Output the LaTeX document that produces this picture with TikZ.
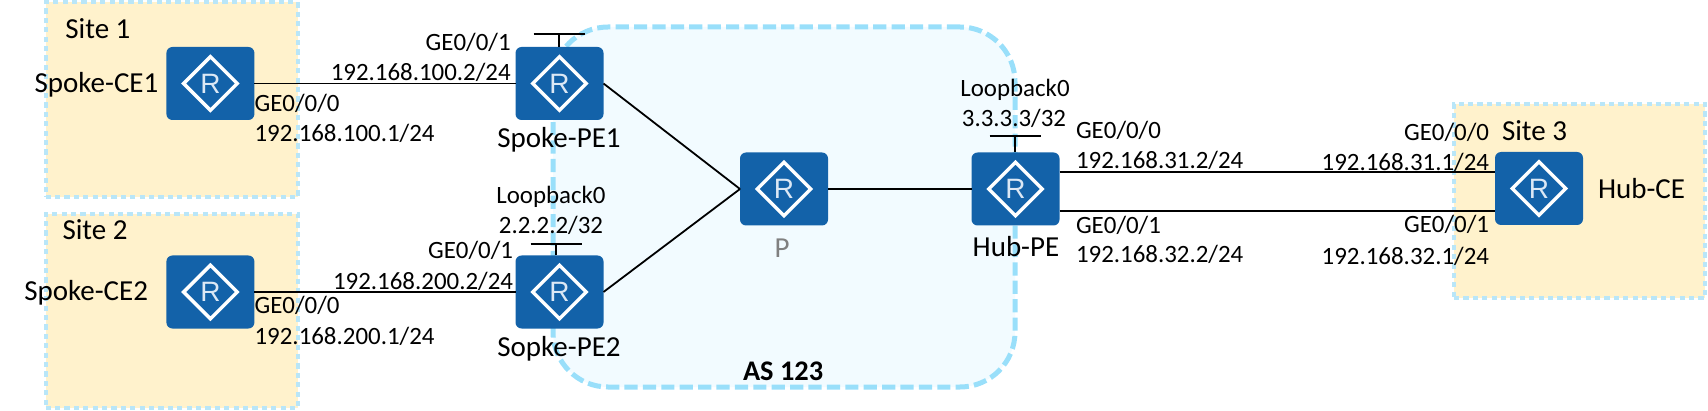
\documentclass[tikz,border=0pt]{standalone}
\usepackage{fontspec}
\setmainfont{Carlito}
\newfontfamily\routerfont{Liberation Sans}
\definecolor{routerblue}{HTML}{1362A9}
\definecolor{routerletter}{HTML}{DCE8F5}
\definecolor{sitefill}{HTML}{FFF2CC}
\definecolor{siteline}{HTML}{B9E6F8}
\definecolor{asfill}{HTML}{F2FBFF}
\definecolor{asline}{HTML}{99DFFA}
\begin{document}
\begin{tikzpicture}[x=.5pt, y=-.5pt,
site/.style={rectangle, draw=siteline, fill=sitefill, line width=2pt, dash pattern=on 2.6pt off 2.1pt, outer sep=0pt},
asbox/.style={rectangle, draw=asline, fill=asfill, line width=2.5pt, dash pattern=on 6.6pt off 2.6pt, rounded corners=27.5pt, outer sep=0pt},
router/.style={rectangle, rounded corners=3pt, fill=routerblue, text=routerletter, outer sep=0pt, inner sep=0pt,
  minimum width=44pt, minimum height=36.5pt, font=\routerfont\fontsize{14}{14}\selectfont,
  path picture={\draw[white, sharp corners, line width=1.7pt] ([yshift=13.4pt]path picture bounding box.center)
    -- ([xshift=13.4pt]path picture bounding box.center) -- ([yshift=-13.4pt]path picture bounding box.center)
    -- ([xshift=-13.4pt]path picture bounding box.center) -- cycle;}},
link/.style={draw=black, line width=.9pt},
lbl/.style={inner sep=0pt, outer sep=0pt, font=\fontsize{12.45}{15}\selectfont},
lblw/.style={lbl, anchor=base west},
lble/.style={lbl, anchor=base east},
lblc/.style={lbl, anchor=base},
bigtxt/.style={font=\fontsize{14.5}{17}\selectfont},
]
\useasboundingbox (0,0) rectangle (1708,411);

% areas
\node[site, minimum width=126pt, minimum height=97.5pt] (site1) at (171.6,100) {};
\node[site, minimum width=126pt, minimum height=97pt] (site2) at (171.6,311) {};
\node[site, minimum width=125.5pt, minimum height=97pt] (site3) at (1579.5,201) {};
\node[asbox, minimum width=231pt, minimum height=180pt] (as123) at (784,207) {};

% routers
\node[router] (ce1) at (210.4,83.5) {R};
\node[router] (ce2) at (210.4,292) {R};
\node[router] (pe1) at (559.5,83.5) {R};
\node[router] (pe2) at (559.5,292) {R};
\node[router] (p) at (784,189) {R};
\node[router] (hubpe) at (1015.5,189) {R};
\node[router] (hubce) at (1539,188.5) {R};

% links
\draw[link] (ce1) -- (pe1);
\draw[link] (ce2) -- (pe2);
\draw[link] (pe1.east) -- (p.west);
\draw[link] (pe2.east) -- (p.west);
\draw[link] (p) -- (hubpe);
\draw[link] ([yshift=8.65pt]hubpe.east) -- ([yshift=8.4pt]hubce.west);
\draw[link] ([yshift=-10.85pt]hubpe.east) -- ([yshift=-11.1pt]hubce.west);

% loopback stubs
\coordinate (stub1) at (559,34);
\coordinate (stub2) at (556,244);
\coordinate (stub3) at (1015,136);
\foreach \stub/\rt in {stub1/pe1, stub2/pe2, stub3/hubpe}{
  \draw[link] (\stub) -- (\stub |- \rt.north);
  \draw[link] ([xshift=-12.75pt]\stub) -- ([xshift=12.75pt]\stub);
}

% texts
\node[lblw, bigtxt] (site1txt) at (65.4,38.5) {Site 1};
\node[lblw, bigtxt] (site2txt) at (62.5,240) {Site 2};
\node[lblw, bigtxt] (site3txt) at (1502,141) {Site 3};
\node[lblw, bigtxt] (ce1txt) at (34.6,93) {Spoke-CE1};
\node[lblw, bigtxt] (ce2txt) at (24.3,300) {Spoke-CE2};
\node[lblc, bigtxt] (pe1txt) at (559,148) {Spoke-PE1};
\node[lblc, bigtxt] (pe2txt) at (559,357) {Sopke-PE2};
\node[lblc, bigtxt, text=gray] (ptxt) at (782,258) {P};
\node[lblc, bigtxt] (hubpetxt) at (1016,257) {Hub-PE};
\node[lblw, bigtxt] (hubcetxt) at (1598,199) {Hub-CE};
\node[lblw, font=\bfseries\fontsize{14.2}{16}\selectfont] (astxt) at (743,380) {AS 123};

\node[lblw] (ce1if) at (254.6,112) {GE0/0/0};
\node[lblw] (ce1ip) at (254.6,142) {192.168.100.1/24};
\node[lble] (pe1if) at (510.7,51) {GE0/0/1};
\node[lble] (pe1ip) at (510.7,81) {192.168.100.2/24};
\node[lblw] (ce2if) at (254.6,314) {GE0/0/0};
\node[lblw] (ce2ip) at (254.6,344) {192.168.200.1/24};
\node[lble] (pe2if) at (513,259) {GE0/0/1};
\node[lble] (pe2ip) at (513,290) {192.168.200.2/24};
\node[lblc] (pe2lo) at (551,204) {Loopback0};
\node[lblc] (pe2loip) at (551,234) {2.2.2.2/32};
\node[lblc] (hublo) at (1015,97) {Loopback0};
\node[lblc] (hubloip) at (1014,127) {3.3.3.3/32};
\node[lblw] (hubif0) at (1076,139) {GE0/0/0};
\node[lblw] (hubip0) at (1076,169) {192.168.31.2/24};
\node[lblw] (hubif1) at (1076,234) {GE0/0/1};
\node[lblw] (hubip1) at (1076,263) {192.168.32.2/24};
\node[lble] (ceif0) at (1489,141) {GE0/0/0};
\node[lble] (ceip0) at (1489,171) {192.168.31.1/24};
\node[lble] (ceif1) at (1489,233) {GE0/0/1};
\node[lble] (ceip1) at (1489,264) {192.168.32.1/24};
\end{tikzpicture}
\end{document}
